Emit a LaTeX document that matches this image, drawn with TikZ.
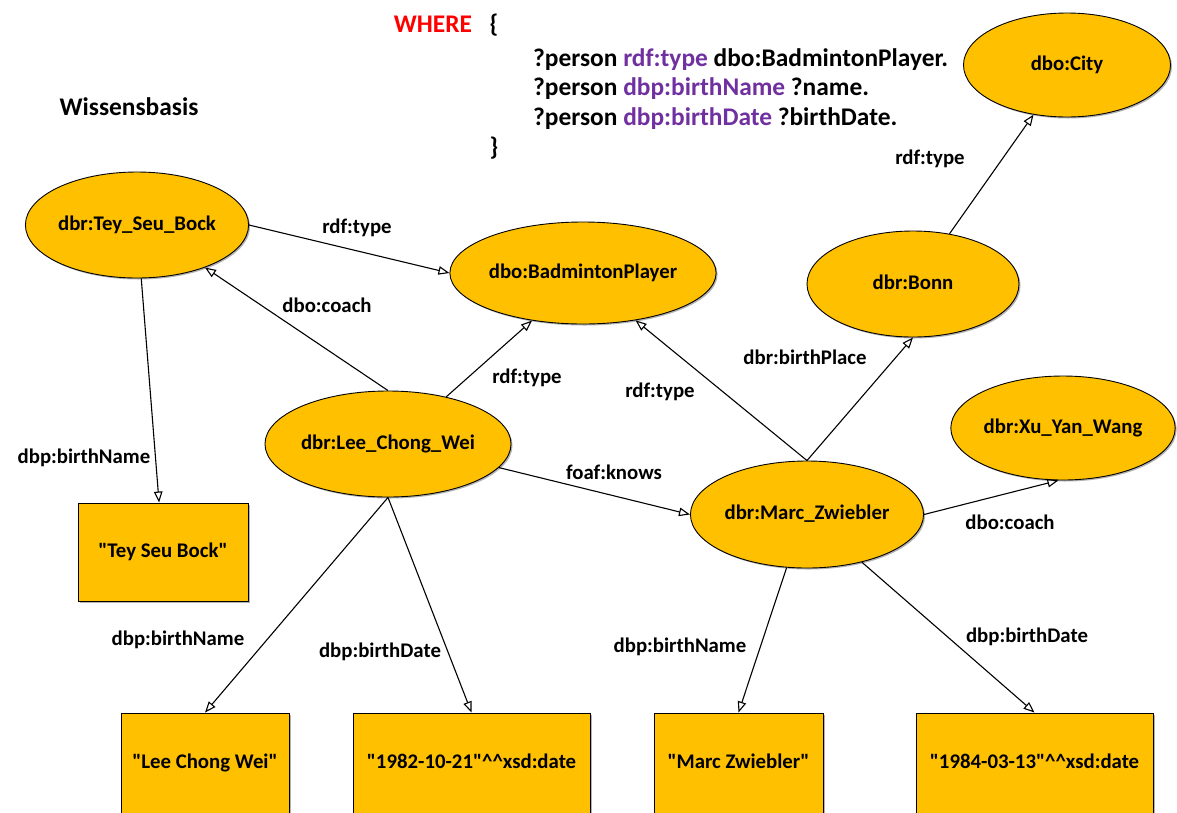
\documentclass[tikz,border=0pt]{standalone}
\usepackage{fontspec}
\setmainfont{Carlito}[Ligatures=TeXOff]
\usetikzlibrary{arrows.meta,shapes.geometric,shadows}
\definecolor{gold}{HTML}{FFC000}
\definecolor{qpurple}{HTML}{7030A0}
\definecolor{qred}{HTML}{FF0000}

\begin{document}
\begin{tikzpicture}[x=1pt,y=-1pt,
  font=\bfseries\fontsize{20.8}{25}\selectfont,
  softshadow/.style={drop shadow={shadow xshift=1.5pt,shadow yshift=-1.5pt,opacity=0.3,fill=black}},
  res/.style={ellipse,draw=black,line width=0.9pt,fill=gold,inner sep=0pt,
    text height=1.05em,text depth=0em,softshadow},
  lit/.style={rectangle,draw=black,line width=0.9pt,fill=gold,inner sep=0pt,
    text height=1.05em,text depth=0em,softshadow},
  rel/.style={draw=black,line width=1.1pt,-{Triangle[open,length=11pt,width=8.5pt]}},
  lbl/.style={inner sep=0pt,text height=0.95em,text depth=0.05em,yshift=-3pt},
  query/.style={font=\bfseries\fontsize{25.4}{30}\selectfont,inner sep=0pt,
    text height=0.95em,text depth=0.05em,yshift=-3.5pt}
]
\useasboundingbox (0,0) rectangle (1177,812);

% SPARQL pattern
\node[query,text=qred] (where) at (433,24) {WHERE};
\node[query] (open) at (494,24) {\{};
\node[query,anchor=west] (q1) at (533,58) {?person \textcolor{qpurple}{rdf:type} dbo:BadmintonPlayer.};
\node[query,anchor=west] (q2) at (533,87) {?person \textcolor{qpurple}{dbp:birthName} ?name.};
\node[query,anchor=west] (q3) at (533,117) {?person \textcolor{qpurple}{dbp:birthDate} ?birthDate.};
\node[query] (close) at (494,147) {\}};

\node[query] (kb) at (129,107) {Wissensbasis};

% resources
\node[res,minimum width=210pt,minimum height=106pt] (tey)  at (137,225) {dbr:Tey\_Seu\_Bock};
\node[res,minimum width=232pt,minimum height=102pt] (bad)  at (583,273) {dbo:BadmintonPlayer};
\node[res,minimum width=207pt,minimum height=104pt] (city) at (1067,65) {dbo:City};
\node[res,minimum width=212pt,minimum height=106pt] (bonn) at (913,284) {dbr:Bonn};
\node[res,minimum width=210pt,minimum height=104pt] (xu)   at (1063,428) {dbr:Xu\_Yan\_Wang};
\node[res,minimum width=210pt,minimum height=106pt] (lee)  at (388,444) {dbr:Lee\_Chong\_Wei};
\node[res,minimum width=210pt,minimum height=107pt] (marc) at (807,514.5) {dbr:Marc\_Zwiebler};

% literals
\node[lit,minimum width=170pt,minimum height=98pt]  (teybox)  at (163,552) {"Tey Seu Bock"};
\node[lit,minimum width=168pt,minimum height=101pt] (leebox)  at (205,763.5) {"Lee Chong Wei"};
\node[lit,minimum width=237pt,minimum height=101pt] (leedate) at (471.5,763.5) {"1982-10-21"\textasciicircum\textasciicircum xsd:date};
\node[lit,minimum width=169pt,minimum height=101pt] (marcbox) at (738.5,763.5) {"Marc Zwiebler"};
\node[lit,minimum width=237pt,minimum height=101pt] (marcdate) at (1034.5,763.5) {"1984-03-13"\textasciicircum\textasciicircum xsd:date};

% relations
\draw[rel] (tey.east) -- (bad.west);
\draw[rel] (lee.north) -- (tey.-32);
\draw[rel] (lee.39) -- (bad.223);
\draw[rel] (tey) -- (teybox);
\draw[rel] (lee.-12) -- (marc.west);
\draw[rel] (marc.north) -- (bad.-42);
\draw[rel] (marc.north) -- (bonn.south);
\draw[rel] (bonn.54) -- (city.236);
\draw[rel] (marc.east) -- (xu.-95);
\draw[rel] (lee.south) -- (leebox.north);
\draw[rel] (lee.south) -- (leedate.north);
\draw[rel] (marc.-111) -- (marcbox.north);
\draw[rel] (marc.-41) -- (marcdate.north);

% relation names
\node[lbl] (l1)  at (357,226)  {rdf:type};
\node[lbl] (l2)  at (327,305)  {dbo:coach};
\node[lbl] (l3)  at (527,376)  {rdf:type};
\node[lbl] (l4)  at (84,456)   {dbp:birthName};
\node[lbl] (l5)  at (614,472)  {foaf:knows};
\node[lbl] (l6)  at (660,390)  {rdf:type};
\node[lbl] (l7)  at (805,357)  {dbr:birthPlace};
\node[lbl] (l8)  at (930,157)  {rdf:type};
\node[lbl] (l9)  at (1010,522) {dbo:coach};
\node[lbl] (l10) at (178,638)  {dbp:birthName};
\node[lbl] (l11) at (380,650)  {dbp:birthDate};
\node[lbl] (l12) at (680,645)  {dbp:birthName};
\node[lbl] (l13) at (1027,635) {dbp:birthDate};
\end{tikzpicture}
\end{document}
